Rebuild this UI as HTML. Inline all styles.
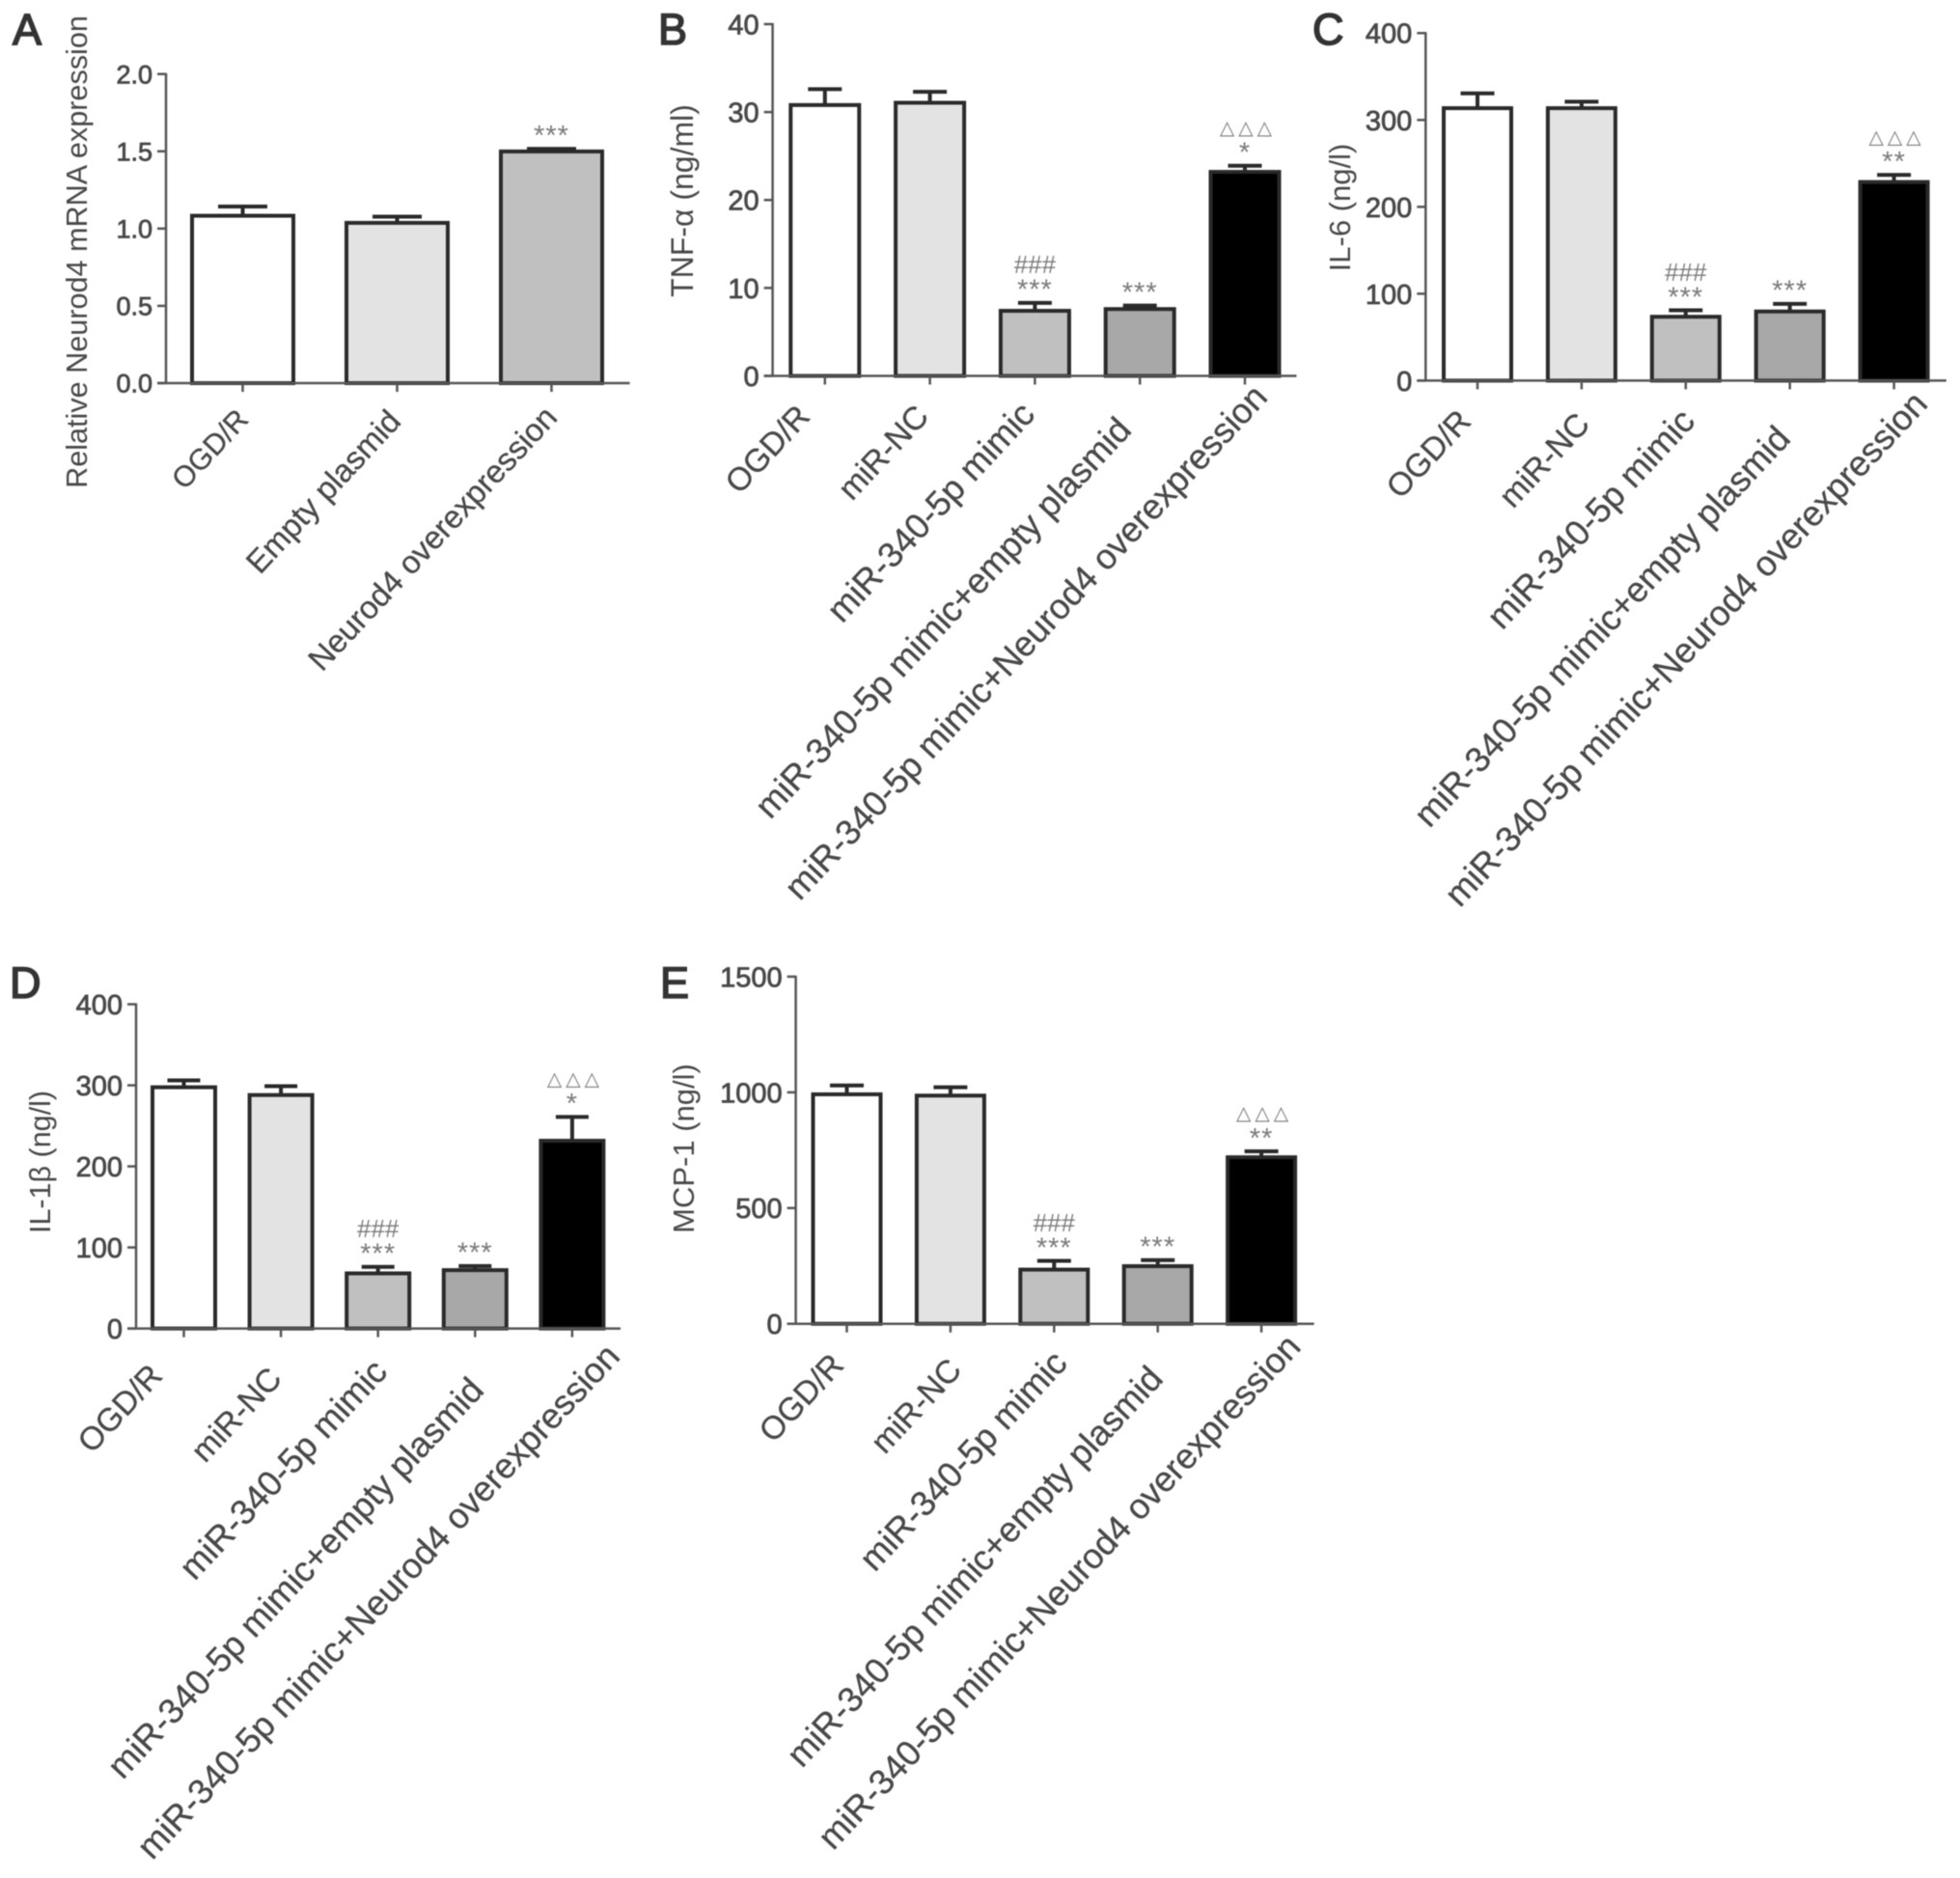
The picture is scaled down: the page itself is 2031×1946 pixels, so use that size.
<!DOCTYPE html>
<html lang="en">
<head>
<meta charset="utf-8">
<title>Neurod4 and cytokine bar charts</title>
<style>
html,body{margin:0;padding:0;background:#fff;}
svg{display:block;filter:blur(0.6px);}
text{font-family:"Liberation Sans",sans-serif;}
</style>
</head>
<body>
<svg id="figure" xmlns="http://www.w3.org/2000/svg" width="2031" height="1946" viewBox="0 0 2031 1946"></svg>
<script>
// ---- data ----
const categoriesA = ['OGD/R', 'Empty plasmid', 'Neurod4 overexpression'];
const categoriesMain = ['OGD/R', 'miR-NC', 'miR-340-5p mimic', 'miR-340-5p mimic+empty plasmid', 'miR-340-5p mimic+Neurod4 overexpression'];

const valuesA = [1.083, 1.037, 1.499];
const errorsA = [1.143, 1.077, 1.516];
const ticksA = ['0.0', '0.5', '1.0', '1.5', '2.0'];
const marksA = [[], [], ['***']];

const valuesB = [30.8, 31.06, 7.4, 7.6, 23.2];
const errorsB = [32.6, 32.3, 8.3, 8.0, 23.9];
const ticksB = ['0', '10', '20', '30', '40'];
const marksB = [[], [], ['###', '***'], ['***'], ['△△△', '*']];

const valuesC = [313.6, 313.6, 73.5, 79.6, 228.6];
const errorsC = [330.6, 321, 81, 88.4, 236.7];
const ticksC = ['0', '100', '200', '300', '400'];
const marksC = [[], [], ['###', '***'], ['***'], ['△△△', '**']];

const valuesD = [297.6, 288, 68, 72, 231.6];
const errorsD = [306, 299, 76, 77, 261];
const ticksD = ['0', '100', '200', '300', '400'];
const marksD = [[], [], ['###', '***'], ['***'], ['△△△', '*']];

const valuesE = [991.5, 986, 234, 249, 719.5];
const errorsE = [1029.7, 1022, 272, 275, 745];
const ticksE = ['0', '500', '1000', '1500'];
const marksE = [[], [], ['###', '***'], ['***'], ['△△△', '**']];

const barFills = ['#ffffff', '#e3e3e3', '#c0c0c0', '#a8a8a8', '#000000'];
const barFillsA = ['#ffffff', '#e3e3e3', '#c0c0c0'];

// ---- panels ----
const panels = [
  {letter:'A', lx:13, ly:46, title:'Relative Neurod4 mRNA expression', titleFont:30.6, tx:90, ty:261, axisX:172, yTop:76.7, y0:397, xEnd:652.6,
   first:251.5, step:160, barW:109, capW:51, cats:categoriesA, values:valuesA, errors:errorsA, ticks:ticksA, marks:marksA, fills:barFillsA,
   tickFont:27, labelFont:33, labelEnds:[[259,436],[417,438],[579,434]]},
  {letter:'B', lx:682, ly:46, title:'TNF-α (ng/ml)', titleFont:32, tx:718, ty:208, axisX:800.6, yTop:25, y0:389.5, xEnd:1343.5,
   first:854.8, step:108.8, barW:75, capW:35, cats:categoriesMain, values:valuesB, errors:errorsB, ticks:ticksB, marks:marksB, fills:barFills,
   tickFont:29, labelFont:36.4, labelEnds:[[841,433],[964,433],[1074,431],[1174,447],[1315,413]]},
  {letter:'C', lx:1360, ly:46, title:'IL-6 (ng/l)', titleFont:31, tx:1399, ty:215, axisX:1477.3, yTop:34.3, y0:394.4, xEnd:2016.8,
   first:1531, step:107.9, barW:74, capW:35, cats:categoriesMain, values:valuesC, errors:errorsC, ticks:ticksC, marks:marksC, fills:barFills,
   tickFont:29, labelFont:36.4, labelEnds:[[1526,438],[1649,441],[1758,438],[1857,456],[1999,420]]},
  {letter:'D', lx:10, ly:1034, title:'IL-1β (ng/l)', titleFont:30.5, tx:52, ty:1204, axisX:141, yTop:1040.6, y0:1376.6, xEnd:643,
   first:190.5, step:100.6, barW:69, capW:34, cats:categoriesMain, values:valuesD, errors:errorsD, ticks:ticksD, marks:marksD, fills:barFills,
   tickFont:29, labelFont:36.4, labelEnds:[[170,1427],[293.6,1430],[403,1423],[503,1442],[644,1407]]},
  {letter:'E', lx:684, ly:1034, title:'MCP-1 (ng/l)', titleFont:31, tx:719, ty:1190, axisX:824.6, yTop:1012, y0:1371.7, xEnd:1361.7,
   first:877.5, step:107.4, barW:74, capW:35, cats:categoriesMain, values:valuesE, errors:errorsE, ticks:ticksE, marks:marksE, fills:barFills,
   tickFont:29, labelFont:36.4, labelEnds:[[876,1416],[998,1421],[1107.7,1414],[1206.8,1430],[1349.6,1397]]}
];

const NS = 'http://www.w3.org/2000/svg';
const root = document.getElementById('figure');
const AXIS = '#555555', INK = '#2a2a2a', TEXT = '#484848', MARK = '#7a7a7a';

function shape(parent, tag, props, txt) {
  const el = document.createElementNS(NS, tag);
  for (const k in props) el.setAttribute(k, props[k]);
  if (txt !== undefined) el.textContent = txt;
  parent.appendChild(el);
  return el;
}

panels.forEach(function (p) {
  const g = shape(root, 'g', {});
  
  

  const maxTick = Number(p.ticks[p.ticks.length - 1]);
  const yScale = function (v) { return p.y0 - (v / maxTick) * (p.y0 - p.yTop); };
  const xScale = function (i) { return p.first + i * p.step; };

  // panel letter
  const letter = shape(g, 'text', {x:p.lx, y:p.ly, 'font-size':45, fill:'#333', stroke:'#333', 'stroke-width':1.6}, p.letter);
  
  

  // y-axis title
  const title = shape(g, 'text', {x:p.tx, y:p.ty, 'font-size':p.titleFont, fill:TEXT, 'text-anchor':'middle', transform:'rotate(-90 ' + p.tx + ' ' + p.ty + ')'}, p.title);
  
  

  // bars, error bars and significance marks
  p.values.forEach(function (v, i) {
    const c = xScale(i);
    const top = yScale(v);
    const errTop = yScale(p.errors[i]);

    const stem = shape(g, 'line', {x1:c, x2:c, y1:top, y2:errTop, stroke:INK, 'stroke-width':4});
    
    

    const cap = shape(g, 'line', {x1:c - p.capW / 2, x2:c + p.capW / 2, y1:errTop, y2:errTop, stroke:INK, 'stroke-width':4});
    
    

    const bar = shape(g, 'rect', {x:c - p.barW / 2 + 2, y:top, width:p.barW - 4, height:p.y0 - top, fill:p.fills[i], stroke:INK, 'stroke-width':4});
    
    

    const lines = p.marks[i];
    lines.forEach(function (sym, k) {
      const centerY = errTop - 21 - (lines.length - 1 - k) * 19;
      const isStar = sym.charAt(0) === '*';
      const isTri = sym.charAt(0) === '△';
      const size = isStar ? 29 : (isTri ? 20 : 26);
      const lift = isStar ? 0.58 : 0.36;
      const mark = shape(g, 'text', {
        x:c + (isTri ? 3 : 0), y:centerY + lift * size, 'font-size':size, fill:MARK, 'text-anchor':'middle',
        'letter-spacing':isTri ? 4 : (isStar ? 1 : 0),
        style:isTri ? 'font-family:"DejaVu Sans",sans-serif' : ''
      }, sym);
      
      
    });

    const tick = shape(g, 'line', {x1:c, x2:c, y1:p.y0, y2:p.y0 + 9, stroke:AXIS, 'stroke-width':2.5});
    
    

    const end = p.labelEnds[i];
    const labelSize = p.cats[i].length <= 6 ? p.labelFont * 0.92 : p.labelFont;
    const label = shape(g, 'text', {x:end[0], y:end[1], 'font-size':labelSize, fill:TEXT, stroke:TEXT, 'stroke-width':0.3, 'text-anchor':'end', transform:'rotate(-47 ' + end[0] + ' ' + end[1] + ')'}, p.cats[i]);
    
    
  });

  // axes
  const yAxis = shape(g, 'line', {x1:p.axisX, x2:p.axisX, y1:p.yTop - 1, y2:p.y0 + 1, stroke:AXIS, 'stroke-width':2.5});
  
  

  const xAxis = shape(g, 'line', {x1:p.axisX - 9, x2:p.xEnd, y1:p.y0, y2:p.y0, stroke:AXIS, 'stroke-width':2.5});
  
  

  p.ticks.forEach(function (t) {
    const y = yScale(Number(t));
    const tk = shape(g, 'line', {x1:p.axisX - 9, x2:p.axisX, y1:y, y2:y, stroke:AXIS, 'stroke-width':2.5});
    
    

    const tl = shape(g, 'text', {x:p.axisX - 14, y:y + p.tickFont * 0.36, 'font-size':p.tickFont, fill:TEXT, stroke:TEXT, 'stroke-width':0.8, 'text-anchor':'end'}, t);
    
    
  });
});
</script>
</body>
</html>
